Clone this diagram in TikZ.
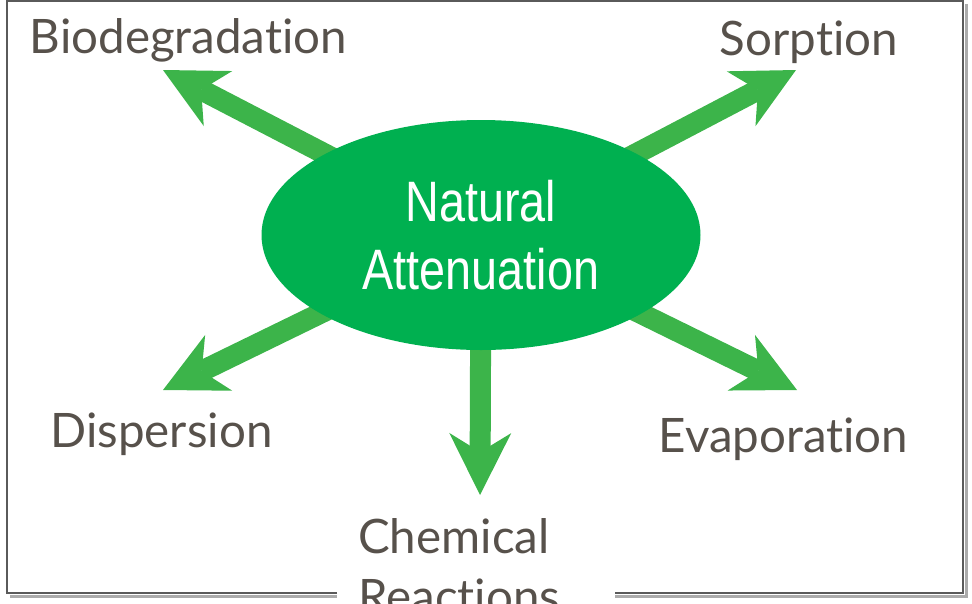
\documentclass[tikz,border=0pt]{standalone}
\usepackage{fontspec}
\setmainfont{Lato}[Ligatures={NoCommon}]
\newfontfamily\corefont[FakeStretch=0.82]{Liberation Sans}
\usetikzlibrary{arrows.meta,shapes.geometric,backgrounds}

\definecolor{coregreen}{HTML}{00B050}
\definecolor{arrowgreen}{HTML}{3CB44A}
\definecolor{labelgray}{HTML}{57514B}
\definecolor{framegray}{HTML}{5A5A5A}
\definecolor{shadowgray}{HTML}{ABABAB}

\tikzset{
  core/.style={ellipse, fill=coregreen, draw=none, inner sep=0pt,
    minimum width=439pt, minimum height=230pt, text=white,
    font=\corefont\fontsize{57pt}{68pt}\selectfont, align=center},
  process/.style={text=labelgray, inner sep=0pt,
    font=\fontsize{47.5pt}{60pt}\selectfont},
  flow/.style={draw=arrowgreen, line width=21pt,
    -{Stealth[length=62pt, width=62pt, inset=19pt, line width=0pt, fill=arrowgreen]}},
  framed/.style={draw=framegray, line width=2pt},
  shade/.style={draw=shadowgray, line width=3pt}
}

\begin{document}
\begin{tikzpicture}[x=1pt, y=-1pt]
  \useasboundingbox (0,0) rectangle (972,603);
  \clip (0,0) rectangle (972,603);

  % central process
  \node[core] (na) at (481,235) {Natural\\Attenuation};

  % arrow tips
  \coordinate (tbio) at (163,70);
  \coordinate (tsor) at (796,70);
  \coordinate (tdis) at (163,390);
  \coordinate (teva) at (797,390);
  \coordinate (tche) at (480,495);

  % labels
  \node[process, anchor=base] (bio) at (188.5,53) {Biodegradation};
  \node[process, anchor=base] (sor) at (809,55) {Sorption};
  \node[process, anchor=base] (dis) at (161.5,447) {Dispersion};
  \node[process, anchor=base] (eva) at (783.5,452) {Evaporation};
  % two-line label: its base anchor sits on the second line
  \node[process, anchor=base west, align=left] (che) at (358,613) {Chemical\\Reactions};

  \begin{scope}[on background layer]
    % framing box with its drop shadow, open where the bottom label sits
    \draw[shade] (966,4) -- (966,596) -- (615,596);
    \draw[shade] (337,596) -- (10,596);
    \draw[framed] (337,593) -- (7,593) -- (7,1) -- (963,1) -- (963,593) -- (615,593);
    % arrows out of the central process
    \draw[flow] (na.center) -- (tbio);
    \draw[flow] (na.center) -- (tsor);
    \draw[flow] (na.center) -- (tdis);
    \draw[flow] (na.center) -- (teva);
    \draw[flow] (na.center) -- (tche);
  \end{scope}
\end{tikzpicture}
\end{document}
